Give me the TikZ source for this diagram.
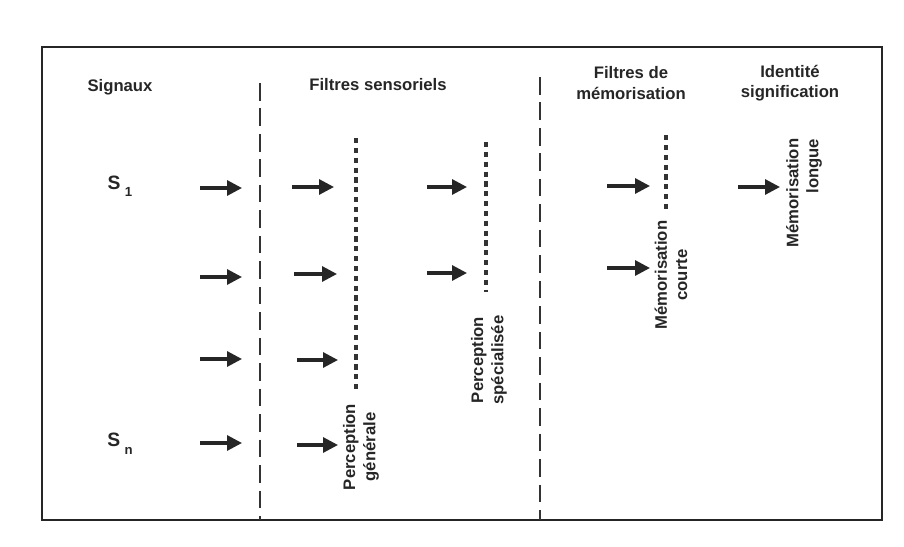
\documentclass[tikz,border=0pt]{standalone}
\usepackage{fontspec}
\setmainfont{Liberation Sans}
\usetikzlibrary{arrows.meta}

\tikzset{
  lbl/.style={font=\bfseries\fontsize{9.5}{11.5}\selectfont, text=black!85, inner sep=1pt, align=center},
  vlbl/.style={lbl, rotate=90},
  fleche/.style={line width=1.8pt, black!85, -{Triangle[length=8.5pt,width=8.5pt]}},
  grosfiltre/.style={line width=1.4pt, black!80, dash pattern=on 10pt off 4.5pt},
  finfiltre/.style={line width=2pt, black!80, dash pattern=on 3pt off 2.6pt}
}

\begin{document}
\begin{tikzpicture}[x=0.02cm, y=-0.02cm]
\useasboundingbox (0,0) rectangle (904,547);
% Cadre
\coordinate (cadreNO) at (42,47);
\coordinate (cadreSE) at (882,520);
\draw[line width=1.6pt, black!85] (cadreNO) rectangle (cadreSE);
% En-tetes des colonnes
\node[lbl] (signaux) at (120,87) {Signaux};
\node[lbl] (sensoriels) at (378,85) {Filtres sensoriels};
\node[lbl] (memfiltres) at (631,83) {Filtres de\\m\'emorisation};
\node[lbl] (identite) at (790,83) {Identit\'e\\signification};
% Signaux S1 ... Sn
\node[lbl, font=\bfseries\fontsize{11}{11}\selectfont] (s1) at (120,186)
  {S\kern2.5pt\raisebox{-0.7ex}{\fontsize{7.5}{7.5}\selectfont 1}};
\node[lbl, font=\bfseries\fontsize{11}{11}\selectfont] (sn) at (120,444)
  {S\kern2.5pt\raisebox{-0.8ex}{\fontsize{7.5}{7.5}\selectfont n}};
% Grandes separations (tirets longs)
\coordinate (sep1h) at (260,83);
\coordinate (sep1b) at (260,520);
\coordinate (sep2h) at (540,77);
\coordinate (sep2b) at (540,520);
\draw[grosfiltre] (sep1h) -- (sep1b);
\draw[grosfiltre] (sep2h) -- (sep2b);
% Filtres internes (tirets courts)
\coordinate (pgh) at (356,138);
\coordinate (pgb) at (356,390);
\coordinate (psh) at (486,142);
\coordinate (psb) at (486,292);
\coordinate (mch) at (666,135);
\coordinate (mcb) at (666,212);
\draw[finfiltre] (pgh) -- (pgb);
\draw[finfiltre] (psh) -- (psb);
\draw[finfiltre] (mch) -- (mcb);
% Etiquettes verticales
\node[vlbl] (pgen) at (361,447) {Perception\\g\'en\'erale};
\node[vlbl] (pspe) at (489,360) {Perception\\sp\'ecialis\'ee};
\node[vlbl] (mcourte) at (671,275) {M\'emorisation\\courte};
\node[vlbl, align=right] (mlongue) at (804,193) {M\'emorisation\\longue};
% Fleches
\foreach \n/\xa/\xb/\y in {a1/200/242/188, a2/200/242/277, a3/200/242/359, a4/200/242/443,
    b1/292/334/187, b2/294/337/274, b3/297/338/360, b4/297/338/445,
    c1/427/467/187, c2/427/467/273,
    d1/607/650/186, d2/607/650/268,
    e1/738/780/187}{
  \coordinate (\n s) at (\xa,\y);
  \coordinate (\n e) at (\xb,\y);
  \draw[fleche] (\n s) -- (\n e);
}
\end{tikzpicture}
\end{document}
